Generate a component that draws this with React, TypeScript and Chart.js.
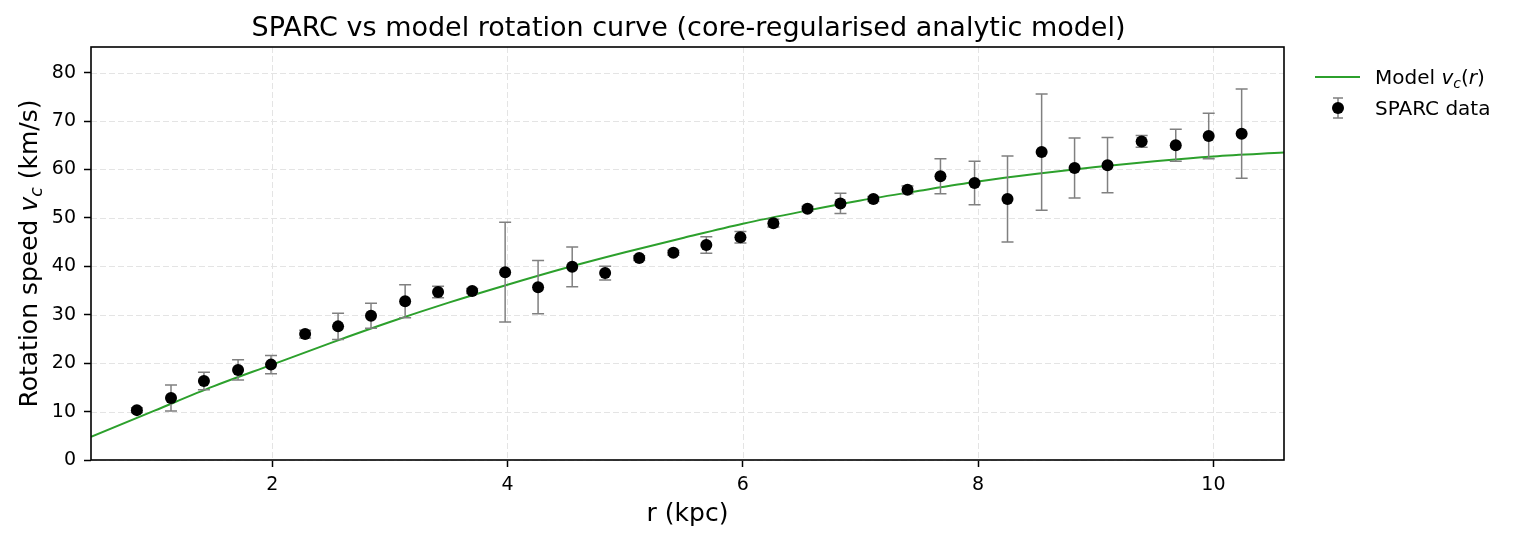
import { useEffect, useRef } from 'react';
import { Chart, registerables } from 'chart.js';

Chart.register(...registerables);

// ---- data ----
const radiusKpc = [0.85, 1.14, 1.42, 1.71, 1.99, 2.28, 2.56, 2.84, 3.13, 3.41, 3.70, 3.98, 4.26, 4.55, 4.83, 5.12, 5.41, 5.69, 5.98, 6.26, 6.55, 6.83, 7.11, 7.40, 7.68, 7.97, 8.25, 8.54, 8.82, 9.10, 9.39, 9.68, 9.96, 10.24];
const speedKms = [10.3, 12.8, 16.3, 18.6, 19.7, 26.0, 27.6, 29.8, 32.8, 34.7, 34.9, 38.8, 35.7, 39.9, 38.6, 41.7, 42.8, 44.4, 46.0, 48.9, 51.9, 53.0, 53.9, 55.8, 58.6, 57.2, 53.9, 63.6, 60.3, 60.9, 65.8, 65.0, 66.9, 67.4];
const speedErr = [0.5, 2.7, 1.8, 2.1, 1.9, 0.8, 2.7, 2.6, 3.4, 1.2, 0.5, 10.3, 5.5, 4.1, 1.4, 0.5, 0.5, 1.7, 1.2, 0.8, 0.5, 2.1, 0.5, 0.8, 3.6, 4.5, 8.9, 12.0, 6.2, 5.7, 1.2, 3.3, 4.7, 9.2];

const modelRadius = [0.46, 1.0, 1.5, 2.0, 2.5, 3.0, 3.5, 4.0, 4.5, 5.0, 5.5, 6.0, 6.5, 7.0, 7.5, 8.0, 8.5, 9.0, 9.5, 10.0, 10.6];
const modelSpeed = [4.8, 10.2, 15.2, 19.7, 24.2, 28.5, 32.5, 36.2, 39.7, 42.9, 45.9, 48.8, 51.3, 53.6, 55.6, 57.5, 59.1, 60.5, 61.7, 62.7, 63.5];

const xTickValues = [2, 4, 6, 8, 10];
const yTickValues = [0, 10, 20, 30, 40, 50, 60, 70, 80];

const titleText = 'SPARC vs model rotation curve (core-regularised analytic model)';
const xLabelText = 'r (kpc)';
const legendModel = 'Model';
const legendData = 'SPARC data';

const FONT = '"DejaVu Sans", sans-serif';
const GREEN = '#2ca02c';
const ERR_COLOR = '#808080';

type Seg = { t: string; italic?: boolean; sub?: boolean };

function segFont(s: Seg, size: number) {
  const sz = s.sub ? size * 0.7 : size;
  return `${s.italic ? 'italic ' : ''}${sz}px ${FONT}`;
}

function drawRich(ctx: CanvasRenderingContext2D, segs: Seg[], x: number, yCenter: number, size: number, align: 'center' | 'left') {
  let total = 0;
  const widths: number[] = [];
  for (const s of segs) {
    ctx.font = segFont(s, size);
    const w = ctx.measureText(s.t).width;
    widths.push(w);
    total += w;
  }
  let cx = align === 'center' ? x - total / 2 : x;
  const baseline = yCenter + size * 0.36;
  ctx.textAlign = 'left';
  ctx.textBaseline = 'alphabetic';
  ctx.fillStyle = '#000';
  segs.forEach((s, i) => {
    ctx.font = segFont(s, size);
    ctx.fillText(s.t, cx, baseline + (s.sub ? size * 0.2 : 0));
    cx += widths[i];
  });
}

const decorPlugin = {
  id: 'decor',
  beforeDatasetsDraw(chart: any) {
    const { ctx, chartArea, scales } = chart;
    ctx.save();
    ctx.strokeStyle = '#e4e4e4';
    ctx.lineWidth = 1;
    ctx.setLineDash([6, 3]);
    for (const v of xTickValues) {
      const px = Math.round(scales.x.getPixelForValue(v)) + 0.5;
      ctx.beginPath();
      ctx.moveTo(px, chartArea.top);
      ctx.lineTo(px, chartArea.bottom);
      ctx.stroke();
    }
    for (const v of yTickValues) {
      const py = Math.round(scales.y.getPixelForValue(v)) + 0.5;
      ctx.beginPath();
      ctx.moveTo(chartArea.left, py);
      ctx.lineTo(chartArea.right, py);
      ctx.stroke();
    }
    ctx.restore();
  },
  afterDatasetDraw(chart: any, args: any) {
    if (args.index !== 1) return;
    const { ctx, scales } = chart;
    ctx.save();
    ctx.strokeStyle = ERR_COLOR;
    ctx.lineWidth = 1.5;
    const cap = 6;
    radiusKpc.forEach((r, i) => {
      const px = scales.x.getPixelForValue(r);
      const top = scales.y.getPixelForValue(speedKms[i] + speedErr[i]);
      const bot = scales.y.getPixelForValue(speedKms[i] - speedErr[i]);
      ctx.beginPath();
      ctx.moveTo(px, top);
      ctx.lineTo(px, bot);
      ctx.moveTo(px - cap, top);
      ctx.lineTo(px + cap, top);
      ctx.moveTo(px - cap, bot);
      ctx.lineTo(px + cap, bot);
      ctx.stroke();
    });
    ctx.restore();
  },
  afterDraw(chart: any) {
    const { ctx, chartArea } = chart;
    ctx.save();
    // spines
    ctx.strokeStyle = '#000';
    ctx.lineWidth = 1.6;
    ctx.setLineDash([]);
    ctx.strokeRect(chartArea.left, chartArea.top, chartArea.right - chartArea.left, chartArea.bottom - chartArea.top);

    const midX = (chartArea.left + chartArea.right) / 2;
    const midY = (chartArea.top + chartArea.bottom) / 2;

    // title
    drawRich(ctx, [{ t: titleText }], midX + 1, 26, 27, 'center');
    // x label
    drawRich(ctx, [{ t: xLabelText }], midX, 512, 25, 'center');
    // y label
    ctx.save();
    ctx.translate(28, midY);
    ctx.rotate(-Math.PI / 2);
    drawRich(ctx, [{ t: 'Rotation speed ' }, { t: 'v', italic: true }, { t: 'c', italic: true, sub: true }, { t: ' (km/s)' }], 0, 0, 25, 'center');
    ctx.restore();

    // legend
    const ly1 = 77;
    const ly2 = 108;
    ctx.strokeStyle = GREEN;
    ctx.lineWidth = 2;
    ctx.beginPath();
    ctx.moveTo(1315, ly1);
    ctx.lineTo(1360, ly1);
    ctx.stroke();
    ctx.strokeStyle = ERR_COLOR;
    ctx.lineWidth = 1.5;
    ctx.beginPath();
    ctx.moveTo(1338, ly2 - 10);
    ctx.lineTo(1338, ly2 + 10);
    ctx.moveTo(1333, ly2 - 10);
    ctx.lineTo(1343, ly2 - 10);
    ctx.moveTo(1333, ly2 + 10);
    ctx.lineTo(1343, ly2 + 10);
    ctx.stroke();
    ctx.fillStyle = '#000';
    ctx.beginPath();
    ctx.arc(1338, ly2, 6, 0, Math.PI * 2);
    ctx.fill();
    drawRich(ctx, [{ t: legendModel + ' ' }, { t: 'v', italic: true }, { t: 'c', italic: true, sub: true }, { t: '(' }, { t: 'r', italic: true }, { t: ')' }], 1375, ly1, 20, 'left');
    drawRich(ctx, [{ t: legendData }], 1375, ly2, 20, 'left');
    ctx.restore();
  },
};

export default function App() {
  const canvasRef = useRef<HTMLCanvasElement | null>(null);

  useEffect(() => {
    document.body.style.margin = '0';
    const canvas = canvasRef.current;
    if (!canvas) return;
    Chart.defaults.font.family = FONT;
    const chart = new Chart(canvas, {
      type: 'scatter',
      data: {
        datasets: [
          {
            label: legendData,
            data: radiusKpc.map((r, i) => ({ x: r, y: speedKms[i] })),
            backgroundColor: '#000',
            borderColor: '#000',
            pointRadius: 6,
            pointBorderWidth: 0,
            showLine: false,
          },
          {
            label: 'Model',
            data: modelRadius.map((r, i) => ({ x: r, y: modelSpeed[i] })),
            borderColor: GREEN,
            backgroundColor: GREEN,
            borderWidth: 2,
            pointRadius: 0,
            showLine: true,
            cubicInterpolationMode: 'monotone',
          },
        ],
      },
      options: {
        animation: false,
        responsive: false,
        devicePixelRatio: 1,
        layout: { padding: { left: 0, right: 233, top: 47, bottom: 0 } },
        plugins: {
          legend: { display: false },
          title: { display: false },
          tooltip: { enabled: false },
        },
        scales: {
          x: {
            type: 'linear',
            min: 0.46,
            max: 10.6,
            afterBuildTicks: (scale: any) => {
              scale.ticks = xTickValues.map((v) => ({ value: v }));
            },
            afterFit: (scale: any) => {
              scale.height = 82;
            },
            border: { display: false },
            grid: {
              display: true,
              drawOnChartArea: false,
              drawTicks: true,
              tickLength: 7,
              tickColor: '#000',
              tickWidth: 1.5,
            },
            ticks: {
              color: '#000',
              font: { size: 19, family: FONT },
              padding: 7,
              maxRotation: 0,
              callback: (v: any) => String(v),
            },
          },
          y: {
            type: 'linear',
            min: 0,
            max: 85.3,
            afterBuildTicks: (scale: any) => {
              scale.ticks = yTickValues.map((v) => ({ value: v }));
            },
            afterFit: (scale: any) => {
              scale.width = 91;
            },
            border: { display: false },
            grid: {
              display: true,
              drawOnChartArea: false,
              drawTicks: true,
              tickLength: 7,
              tickColor: '#000',
              tickWidth: 1.5,
            },
            ticks: {
              color: '#000',
              font: { size: 19, family: FONT },
              padding: 8,
              callback: (v: any) => String(v),
            },
          },
        },
      },
      plugins: [decorPlugin],
    } as any);
    return () => chart.destroy();
  }, []);

  return (
    <div style={{ position: 'absolute', left: 0, top: 0, width: 1517, height: 542, background: '#fff' }}>
      <canvas ref={canvasRef} width={1517} height={542} style={{ display: 'block', width: 1517, height: 542 }} />
    </div>
  );
}
